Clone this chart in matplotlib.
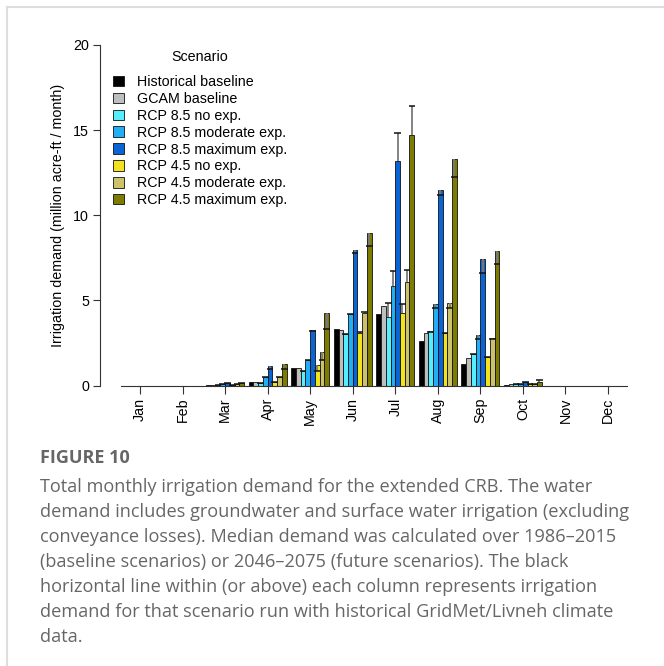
import numpy as np
import matplotlib
matplotlib.use("Agg")
import matplotlib.pyplot as plt
from matplotlib.patches import Patch
from matplotlib.lines import Line2D

months = ["Jan", "Feb", "Mar", "Apr", "May", "Jun",
          "Jul", "Aug", "Sep", "Oct", "Nov", "Dec"]

scenarios = ["Historical baseline", "GCAM baseline", "RCP 8.5 no exp.",
             "RCP 8.5 moderate exp.", "RCP 8.5 maximum exp.", "RCP 4.5 no exp.",
             "RCP 4.5 moderate exp.", "RCP 4.5 maximum exp."]
colors = ["#000000", "#bebebe", "#55eefc", "#22aef2",
          "#0a64d6", "#f2e31e", "#cdc26c", "#7d7b00"]

# Median monthly demand (million acre-ft / month)
hist_base = [0, 0, 0.03, 0.23, 1.04, 3.33, 4.22, 2.60, 1.29, 0.05, 0, 0]
gcam_base = [0, 0, 0.03, 0.23, 1.00, 3.28, 4.67, 3.09, 1.59, 0.06, 0, 0]
rcp85_no = [0, 0, 0.04, 0.13, 0.88, 3.04, 4.02, 3.19, 1.86, 0.07, 0, 0]
rcp85_mod = [0, 0, 0.06, 0.48, 1.51, 4.18, 5.82, 4.76, 2.96, 0.10, 0, 0]
rcp85_max = [0, 0, 0.15, 1.15, 3.26, 7.98, 13.18, 11.49, 7.45, 0.22, 0, 0]
rcp45_no = [0, 0, 0.04, 0.23, 1.22, 3.10, 4.27, 3.06, 1.68, 0.07, 0, 0]
rcp45_mod = [0, 0, 0.06, 0.52, 1.97, 4.27, 6.10, 4.82, 2.80, 0.10, 0, 0]
rcp45_max = [0, 0, 0.12, 1.26, 4.25, 8.98, 14.72, 13.29, 7.90, 0.20, 0, 0]

# Same scenarios run with historical GridMet/Livneh climate
rcp85_no_hist = [0, 0, 0.04, 0.13, 0.88, 3.04, 4.84, 3.15, 1.86, 0.07, 0, 0]
rcp85_mod_hist = [0, 0, 0.06, 0.48, 1.50, 4.20, 6.70, 4.53, 2.76, 0.10, 0, 0]
rcp85_max_hist = [0, 0, 0.14, 0.95, 3.20, 7.80, 14.86, 11.20, 6.59, 0.22, 0, 0]
rcp45_no_hist = [0, 0, 0.04, 0.22, 0.85, 3.15, 4.80, 3.06, 1.70, 0.07, 0, 0]
rcp45_mod_hist = [0, 0, 0.06, 0.50, 1.51, 4.30, 6.80, 4.53, 2.72, 0.10, 0, 0]
rcp45_max_hist = [0, 0, 0.12, 0.98, 3.32, 8.20, 16.43, 12.23, 7.13, 0.30, 0, 0]

series = [hist_base, gcam_base, rcp85_no, rcp85_mod,
          rcp85_max, rcp45_no, rcp45_mod, rcp45_max]
hist_climate = [None, None, rcp85_no_hist, rcp85_mod_hist,
                rcp85_max_hist, rcp45_no_hist, rcp45_mod_hist, rcp45_max_hist]

plt.rcParams["font.family"] = ["Liberation Sans", "DejaVu Sans"]
FS = 10.3

W, H = 664, 666
fig = plt.figure(figsize=(W / 100, H / 100), dpi=100)

# axes placed in pixel terms
px_left, px_right = 100, 630
px_top, px_bottom = 45, 385.5
ax = fig.add_axes([px_left / W, 1 - px_bottom / H,
                   (px_right - px_left) / W, (px_bottom - px_top) / H])

unit = 42.55  # pixels per month
x0_px = 140
ax.set_xlim((px_left - x0_px) / unit, (px_right - x0_px) / unit)
ax.set_ylim(0, 20)

x = np.arange(len(months))
bw = 1 / 9
for j, (vals, col) in enumerate(zip(series, colors)):
    xs = x + (j - 3.5) * bw
    ax.bar(xs, vals, width=bw, color=col, edgecolor="#111111",
           linewidth=0.6, zorder=2)
    hc = hist_climate[j]
    if hc is None:
        continue
    for xi, v, h in zip(xs, vals, hc):
        if v == 0 and h == 0:
            continue
        ax.plot([xi, xi], [v, h], color="#7a7a7a", lw=1.3,
                zorder=3, solid_capstyle="butt")
        ax.plot([xi - bw * 0.7, xi + bw * 0.7], [h, h], color="#111111",
                lw=1.1, zorder=4, solid_capstyle="butt")

for s in ["top", "right"]:
    ax.spines[s].set_visible(False)
ax.spines["left"].set_bounds(0, 20)
ax.spines["bottom"].set_bounds(-4 * bw, 11 + 4 * bw)
for s in ["left", "bottom"]:
    ax.spines[s].set_color("#333333")
    ax.spines[s].set_linewidth(0.8)

ax.set_yticks([0, 5, 10, 15, 20])
ax.set_xticks(x)
ax.set_xticklabels(months, rotation=90, va="top", ha="center")
ax.tick_params(axis="y", length=5, width=0.8, color="#333333",
               labelsize=FS, pad=3)
ax.tick_params(axis="x", length=5.8, width=0.8, color="#333333",
               labelsize=FS, pad=3)
ax.set_ylabel("Irrigation demand (million acre-ft / month)", fontsize=FS)
ax.yaxis.set_label_coords(-0.066, 0.5)

handles = [Patch(facecolor=c, edgecolor="#111111", linewidth=0.6)
           for c in colors]
leg = ax.legend(handles, scenarios, title="Scenario", loc="upper left",
                bbox_to_anchor=(113 / W, 1 - 50 / H),
                bbox_transform=fig.transFigure, frameon=False,
                fontsize=FS, title_fontsize=FS, handlelength=0.77,
                handleheight=0.77, handletextpad=0.9, labelspacing=0.2,
                borderaxespad=0, borderpad=0)
leg._legend_box.sep = 8

# card frame
fig.add_artist(Line2D([7 / W, 1], [1 - 7 / H, 1 - 7 / H], color="#dddddd",
                      lw=1.5, transform=fig.transFigure))
fig.add_artist(Line2D([7 / W, 7 / W], [0, 1 - 7 / H], color="#dddddd",
                      lw=1.5, transform=fig.transFigure))

cap_color = "#666666"
fig.text(40 / W, 1 - 458 / H, "FIGURE 10", fontsize=13, fontweight="bold",
         color=cap_color, va="center", ha="left",
         family=["Open Sans", "DejaVu Sans"])
caption = [
    "Total monthly irrigation demand for the extended CRB. The water",
    "demand includes groundwater and surface water irrigation (excluding",
    "conveyance losses). Median demand was calculated over 1986\u20132015",
    "(baseline scenarios) or 2046\u20132075 (future scenarios). The black",
    "horizontal line within (or above) each column represents irrigation",
    "demand for that scenario run with historical GridMet/Livneh climate",
    "data.",
]
for i, line in enumerate(caption):
    fig.text(40 / W, 1 - (487 + 25 * i) / H, line, fontsize=13.1,
             color=cap_color, va="center", ha="left",
             family=["Open Sans", "DejaVu Sans"])

fig.savefig("out.png", dpi=100)
